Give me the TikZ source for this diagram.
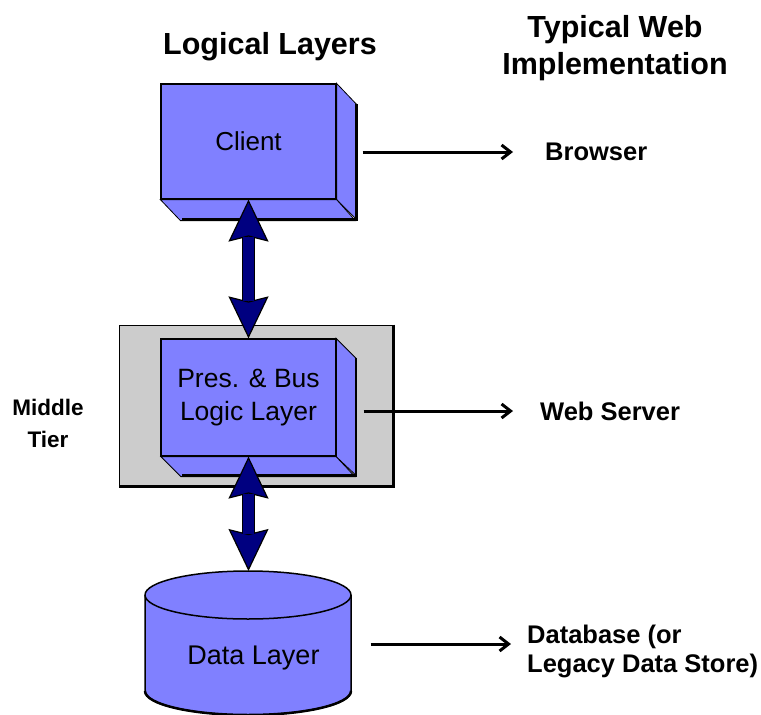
\documentclass[tikz,border=0pt]{standalone}
\usepackage{fontspec}
\setmainfont{Liberation Sans}
\usetikzlibrary{arrows.meta,calc}
\definecolor{peri}{RGB}{128,128,255}
\definecolor{navyb}{RGB}{0,0,128}
\definecolor{tiergray}{RGB}{204,204,204}
\tikzset{dbltip/.tip={Stealth[length=42pt,width=40pt,inset=5pt,line width=1.2pt,color=black,fill=navyb]}}
\begin{document}
\begin{tikzpicture}[x=1pt,y=-1pt,
  face/.style={draw=black,line width=1.2pt,fill=peri,inner sep=0pt},
  sideface/.style={fill=peri,draw=black,line width=0.8pt},
  outeredge/.style={draw=black,line width=2.5pt},
  hdr/.style={font=\fontsize{30.5}{37}\selectfont\bfseries,inner sep=0pt,align=center},
  lbl/.style={font=\fontsize{25.5}{29}\selectfont\bfseries,inner sep=0pt,align=left},
  boxtxt/.style={font=\fontsize{26.5}{33}\selectfont,align=center},
  outarrow/.style={draw=black,line width=3pt,-{Straight Barb[length=9pt,width=14pt]}},
  dblunder/.style={draw=black,line width=13.4pt,shorten <=37pt,shorten >=37pt},
  dblmain/.style={draw=navyb,line width=11pt,dbltip-dbltip},
  dblcover/.style={draw=navyb,line width=11pt,shorten <=37pt,shorten >=37pt},
]
\fill[white] (0,0) rectangle (761,715);
\useasboundingbox (0,0) rectangle (761,715);

% headers
\node[hdr,anchor=base] (hlogical) at (270,54) {Logical Layers};
\node[hdr] (hweb) at (615,48.5) {Typical Web\\Implementation};

% client 3D box
\node[face,minimum width=175pt,minimum height=115pt,font=\fontsize{26}{31}\selectfont] (client) at (248.5,141.5) {Client};
\path[sideface] (client.north east) -- ++(20,21) -- ++(0,115) -- (client.south east) -- cycle;
\path[sideface] (client.south west) -- ++(20,21) -- ++(175,0) -- (client.south east) -- cycle;
\draw[outeredge] ($(client.north east)+(20,21)$) -- ++(0,115) -- ++(-175,0);
\draw[line width=1.2pt] (client.north west) rectangle (client.south east);

% middle tier
\node[draw=black,line width=1pt,fill=tiergray,minimum width=274pt,minimum height=161pt,inner sep=0pt] (tier) at (256,405.5) {};
\draw[outeredge] (tier.north east) -- (tier.south east) -- (tier.south west);
\node[face,minimum width=174pt,minimum height=117pt,boxtxt] (pbl) at (248.5,397.5) {Pres. \& Bus\\Logic Layer};
\path[sideface] (pbl.north east) -- ++(20,20) -- ++(0,117) -- (pbl.south east) -- cycle;
\path[sideface] (pbl.south west) -- ++(20,20) -- ++(174,0) -- (pbl.south east) -- cycle;
\draw[outeredge] ($(pbl.north east)+(20,20)$) -- ++(0,117) -- ++(-174,0);
\draw[line width=1.2pt] (pbl.north west) rectangle (pbl.south east);
\node[font=\fontsize{22.5}{32}\selectfont\bfseries,inner sep=0pt,align=center] (mtier) at (48,423) {Middle\\Tier};

% data layer cylinder
\path[fill=peri,draw=black,line width=1.5pt] (145,595) -- (145,691)
  arc[start angle=180,end angle=0,x radius=103,y radius=24] -- (351,595)
  arc[start angle=0,end angle=-180,x radius=103,y radius=24] -- cycle;
\draw[line width=1.5pt] (145,595) arc[start angle=180,end angle=0,x radius=103,y radius=24];
\draw[line width=2.5pt] (145,691) arc[start angle=180,end angle=0,x radius=103,y radius=24];
\coordinate (datatop) at (248.5,571);
\node[inner sep=0pt,font=\fontsize{27}{32}\selectfont] (data) at (253.5,658) {Data Layer};

% implementation labels
\node[lbl,anchor=west] (browser) at (545,152) {Browser};
\node[lbl,anchor=west] (webserver) at (540,411) {Web Server};
\node[lbl,anchor=west] (db) at (527,651) {Database (or\\Legacy Data Store)};

% horizontal arrows
\draw[outarrow,shorten <=26pt,shorten >=32pt] (client.east |- browser.west) -- (browser.west);
\draw[outarrow,shorten <=27.5pt,shorten >=27pt] (pbl.east |- webserver.west) -- (webserver.west);
\draw[outarrow,shorten <=51pt,shorten >=16pt] ($(data.east |- db.west)+(0,-7)$) -- ($(db.west)+(0,-7)$);

% double arrows
\draw[dblunder] (client.south) -- (pbl.north);
\draw[dblmain] (client.south) -- (pbl.north);
\draw[dblcover] (client.south) -- (pbl.north);
\draw[dblunder] (pbl.south) -- (datatop);
\draw[dblmain] (pbl.south) -- (datatop);
\draw[dblcover] (pbl.south) -- (datatop);
\end{tikzpicture}
\end{document}
